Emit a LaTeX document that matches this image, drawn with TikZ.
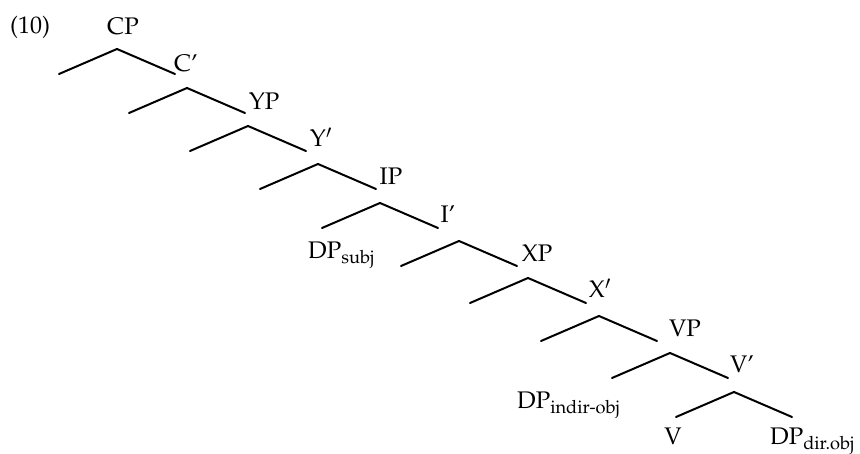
\documentclass[tikz,border=0pt]{standalone}
\usepackage[T1]{fontenc}
\usepackage{mathpazo}
\usepackage{tikz}
\usetikzlibrary{calc}

\begin{document}
\begin{tikzpicture}[x=1pt, y=-1pt,
				lbl/.style={anchor=base, inner sep=0pt, font=\fontsize{24}{28}\selectfont},
				sublbl/.style={lbl, anchor=base west},
				branch/.style={line width=2pt, line cap=round, line join=round}
				]
				\useasboundingbox (0,0) rectangle (860,454);
				\node[lbl] (ex) at (30,34) {(10)};
				\node[lbl] (cp) at (123,35) {CP};
				\node[lbl] (c1) at (186,72) {C'};
				\node[lbl] (yp) at (264,110) {YP};
				\node[lbl] (y1) at (321,147) {Y$'$};
				\node[lbl] (ip) at (391,185) {IP};
				\node[lbl] (i1) at (448,223) {I'};
				\node[sublbl] (dpsubj) at (308,259) {DP\textsubscript{subj}};
				\node[lbl] (xp) at (537,262) {XP};
				\node[lbl] (x1) at (600,298) {X$'$};
				\node[lbl] (vp) at (685,337) {VP};
				\node[lbl] (v1) at (742,373) {V'};
				\node[sublbl] (dpind) at (517,409) {DP\textsubscript{indir-obj}};
				\node[lbl] (v) at (673,445) {V};
				\node[sublbl] (dpdir) at (770,445) {DP\textsubscript{dir.obj}};
				\foreach \n/\x/\y in {1/117/49, 2/187/88, 3/248/126, 4/318/164, 5/380/203,
					6/459/241, 7/528/278, 8/599/316, 9/670/353, 10/734/392} {
					\coordinate (a\n) at (\x,\y);
					\coordinate (l\n) at (\x-58,\y+25);
					\coordinate (r\n) at (\x+58,\y+25);
					\draw[branch] (l\n) -- (a\n) -- (r\n);
				}
			\end{tikzpicture}
\end{document}
